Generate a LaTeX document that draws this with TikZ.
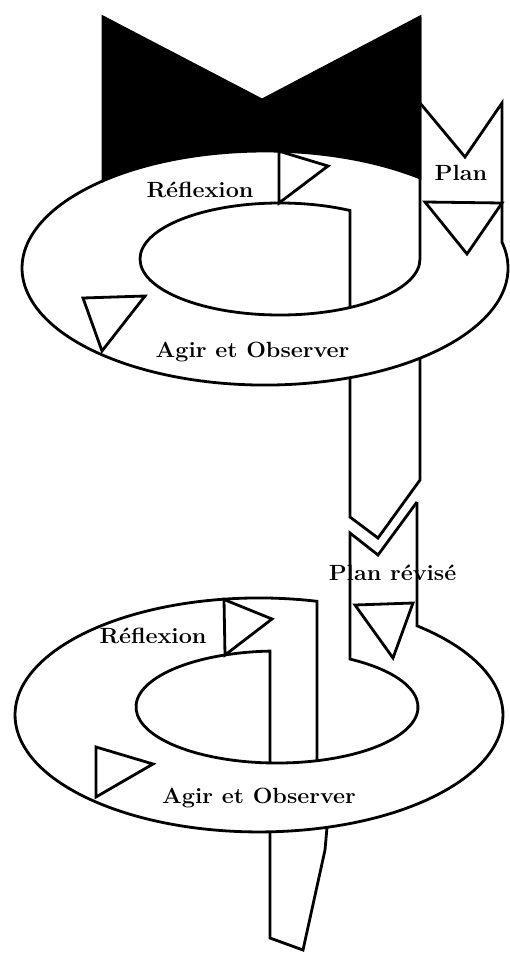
\documentclass[tikz,border=0pt]{standalone}
\usepackage{fontspec}
\usepackage{graphicx}
\newcommand{\widetext}[1]{\scalebox{1.06}[1]{\bfseries #1}}
\begin{document}
\begin{tikzpicture}[x=1pt,y=-1pt,
  ink/.style={draw=black,line width=2.8pt},
  lbl/.style={font=\fontsize{22}{24}\selectfont,inner sep=0pt,anchor=base}]
\fill[white] (0,0) rectangle (509,961);
\useasboundingbox (0,0) rectangle (509,961);

% dark back face of the upper loop
\filldraw[ink,fill=black] (103,17) -- (262,100) -- (420,17) -- (420,177.9)
  arc[start angle=-50.37,end angle=-131.81,x radius=243,y radius=117] -- cycle;

% "Plan" band and outer edge of the upper loop
\draw[ink] (420,103) -- (465,157) -- (502,103) -- (502,242.2)
  arc[start angle=-12.76,end angle=228.19,x radius=243,y radius=117];
% inner edge of the upper loop
\draw[ink] (420,17) -- (420,259)
  arc[start angle=0,end angle=300,x radius=140,y radius=56] -- (350,307.5);
% band going down between the loops
\draw[ink] (350,377.6) -- (350,517) -- (378,538) -- (420,480) -- (420,358.1);

% "Plan revise" band and inner edge of the lower loop
\draw[ink] (417,502) -- (378,555) -- (350,533) -- (350,659.1)
  arc[start angle=-58.82,end angle=267.15,x radius=141,y radius=56] -- (270,762.9);
% outer edge of the lower loop
\draw[ink] (417,502) -- (417,625.8)
  arc[start angle=-49.64,end angle=283.75,x radius=244,y radius=117] -- (317,760.7);
% tail of the spiral
\draw[ink] (270,831.9) -- (270,938) -- (303,950) -- (325,850) -- (327,827.4);

% direction markers
\draw[ink] (279,151.2) -- (328,166) -- (279,203) -- cycle;
\draw[ink] (83,298) -- (145,296) -- (102,351) -- cycle;
\draw[ink] (425,202) -- (502,203) -- (467,254) -- cycle;
\draw[ink] (355,605) -- (413,603) -- (393,658) -- cycle;
\draw[ink] (224,599.5) -- (272,619) -- (225,655) -- cycle;
\draw[ink] (96,747) -- (153,764) -- (96,797) -- cycle;

% labels
\node[lbl] (refl1) at (200,197) {\widetext{Réflexion}};
\node[lbl] (plan1) at (461,180) {\widetext{Plan}};
\node[lbl] (act1) at (252.5,357) {\widetext{Agir et Observer}};
\node[lbl] (plan2) at (392.5,580) {\widetext{Plan révisé}};
\node[lbl] (refl2) at (153,643) {\widetext{Réflexion}};
\node[lbl] (act2) at (259,803) {\widetext{Agir et Observer}};
\end{tikzpicture}
\end{document}
